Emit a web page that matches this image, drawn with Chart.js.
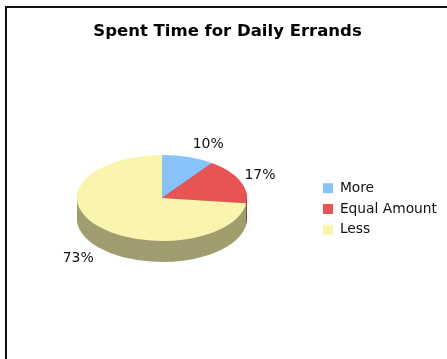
<!DOCTYPE html>
<html>
<head>
<meta charset="utf-8">
<script src="https://cdn.jsdelivr.net/npm/chart.js@4"></script>
<style>
  body { margin: 0; width: 447px; height: 359px; overflow: hidden; background: #fff; }
  .frame { position: absolute; left: 5px; top: 6px; width: 600px; height: 600px; border: 2px solid #111; }
  .wrap { position: absolute; left: 0; top: 0; width: 447px; height: 359px; }
</style>
</head>
<body>
<div class="frame"></div>
<div class="wrap"><canvas id="errandsChart" width="447" height="359"></canvas></div>
<script>
// Chart data
const categories = ['More', 'Equal Amount', 'Less'];
const shares = [10, 17, 73];
const sliceColors = ['#89c1fa', '#e85454', '#faf5ae'];

// 3D look: squash the pie vertically and draw a darker rim under it
const tilt = 0.506;
const depth = 21;

function darken(hex, f) {
    const n = parseInt(hex.slice(1), 16);
    const r = Math.round(((n >> 16) & 255) * f);
    const g = Math.round(((n >> 8) & 255) * f);
    const b = Math.round((n & 255) * f);
    return 'rgb(' + r + ',' + g + ',' + b + ')';
}

const pie3d = {
    id: 'pie3d',
    beforeDatasetsDraw(chart) {
        const ctx = chart.ctx;
        const arcs = chart.getDatasetMeta(0).data;
        const cx = arcs[0].x, cy = arcs[0].y;
        ctx.save();
        for (let d = depth; d >= 1; d--) {
            ctx.save();
            ctx.translate(cx, cy + d);
            ctx.scale(1, tilt);
            ctx.translate(-cx, -cy);
            arcs.forEach((arc, i) => {
                const side = Object.create(arc);
                side.options = Object.assign({}, arc.options, { backgroundColor: darken(sliceColors[i], 0.64) });
                arc.draw.call(side, ctx);
            });
            ctx.restore();
        }
        ctx.translate(cx, cy);
        ctx.scale(1, tilt);
        ctx.translate(-cx, -cy);
    },
    afterDatasetsDraw(chart) {
        const ctx = chart.ctx;
        ctx.restore();
        // percentage labels, just outside the rim
        const arcs = chart.getDatasetMeta(0).data;
        const total = shares.reduce((a, b) => a + b, 0);
        ctx.save();
        ctx.font = '14px "DejaVu Sans", Verdana, sans-serif';
        ctx.fillStyle = '#111';
        ctx.textAlign = 'center';
        ctx.textBaseline = 'middle';
        arcs.forEach((arc, i) => {
            const p = arc.getProps(['x', 'y', 'startAngle', 'endAngle', 'outerRadius'], true);
            const mid = (p.startAngle + p.endAngle) / 2;
            const c = Math.cos(mid), s = Math.sin(mid);
            const lx = p.x + c * p.outerRadius + (c >= 0 ? 20 : -20);
            const ly = p.y + s * p.outerRadius * tilt + (s > 0 ? depth + 2 : 0) + s * 13;
            ctx.fillText(Math.round(shares[i] / total * 100) + '%', lx, ly);
        });
        ctx.restore();
    }
};

const ctx = document.getElementById('errandsChart').getContext('2d');
new Chart(ctx, {
    type: 'pie',
    data: {
        labels: categories,
        datasets: [{
            data: shares,
            backgroundColor: sliceColors,
            borderWidth: 0,
            radius: 85
        }]
    },
    options: {
        responsive: false,
        animation: false,
        layout: { padding: { left: 8, right: 0, top: 0, bottom: 13 } },
        plugins: {
            title: {
                display: true,
                text: 'Spent Time for Daily Errands',
                color: '#000',
                font: { family: '"DejaVu Sans", Verdana, sans-serif', size: 16.5, weight: 'bold' },
                padding: { top: 22, bottom: 8 }
            },
            legend: {
                position: 'right',
                title: { display: true, text: '', font: { size: 10 }, padding: 30 },
                labels: {
                    boxWidth: 10,
                    boxHeight: 10,
                    padding: 7,
                    color: '#111',
                    font: { family: '"DejaVu Sans", Verdana, sans-serif', size: 13.8 }
                }
            },
            tooltip: { enabled: false }
        }
    },
    plugins: [pie3d]
});
</script>
</body>
</html>
